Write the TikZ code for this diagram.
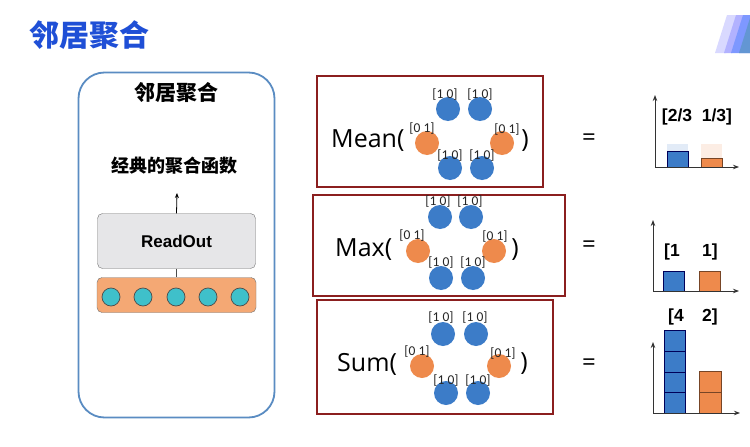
\documentclass[tikz,border=0pt]{standalone}
\usepackage{fontspec}
\setmainfont{Liberation Sans}
\newfontfamily\cjk{Noto Sans CJK SC}
\newfontfamily\lab{Carlito}
\newfontfamily\fn{Open Sans}
\usetikzlibrary{arrows.meta}
\definecolor{ttl}{HTML}{1F4FD6}
\definecolor{frame}{HTML}{5A8CC2}
\definecolor{dred}{HTML}{8B1F1F}
\definecolor{cblue}{HTML}{3C7CC8}
\definecolor{corange}{HTML}{EE8A4C}
\definecolor{teal}{HTML}{3FC0CA}
\definecolor{barorange}{HTML}{F4A874}
\definecolor{rogray}{HTML}{E6E6E8}
\tikzset{
  bc/.style={circle,fill=cblue,minimum size=24pt,inner sep=0pt},
  oc/.style={circle,fill=corange,minimum size=24pt,inner sep=0pt},
  tc/.style={circle,fill=teal,draw=black!70,line width=0.7pt,minimum size=18pt,inner sep=0pt},
  lb/.style={font=\lab\fontsize{13.5}{14}\selectfont,inner sep=0pt,text=black!85},
  fnbox/.style={draw=dred,line width=2pt},
  fnname/.style={font=\fn\fontsize{25}{28}\selectfont,inner sep=0pt,anchor=west},
  paren/.style={font=\fn\fontsize{25}{28}\selectfont,inner sep=0pt},
  eqs/.style={font=\fn\fontsize{24}{26}\selectfont,inner sep=0pt},
  val/.style={font=\bfseries\fontsize{17.5}{18}\selectfont,inner sep=0pt},
  axis/.style={line width=0.9pt,black!80,-{Stealth[length=6pt,width=4.5pt]}},
  bbar/.style={fill=cblue,draw=black!65!blue,line width=0.7pt},
  obar/.style={fill=corange,draw=black!50!corange,line width=0.7pt},
}
\begin{document}
\begin{tikzpicture}[x=1pt,y=-1pt]
\useasboundingbox[fill=white] (0,0) rectangle (750,447);

% title
\node[font=\cjk\bfseries\fontsize{30}{30}\selectfont,text=ttl,anchor=west,inner sep=0pt] (title) at (29,35) {邻居聚合};

% top-right decoration
\fill[blue!15!white] (715,53) -- (727,15) -- (738,15) -- (726,53) -- cycle;
\fill[blue!30!white] (724,53) -- (736,15) -- (744,15) -- (732,53) -- cycle;
\fill[blue!45!white!90!cyan] (731,53) -- (743,15) -- (750,15) -- (750,53) -- cycle;
\fill[cblue!80!white] (739,53) -- (750,18) -- (750,53) -- cycle;

% left panel
\node[draw=frame,line width=1.8pt,rounded corners=26pt,minimum width=196pt,minimum height=345pt,inner sep=0pt] (panel) at (176.5,245) {};
\node[font=\cjk\bfseries\fontsize{21}{21}\selectfont,inner sep=0pt] (ptitle) at (176,92) {邻居聚合};
\node[font=\cjk\bfseries\fontsize{18}{18}\selectfont,inner sep=0pt] (fname) at (174,166) {经典的聚合函数};
\node[draw=black!55,fill=rogray,rounded corners=5pt,minimum width=158pt,minimum height=55pt,inner sep=0pt,font=\bfseries\fontsize{17}{18}\selectfont] (ro) at (176.5,241) {ReadOut};
\node[draw=black!55,fill=barorange,rounded corners=5pt,minimum width=159pt,minimum height=35pt,inner sep=0pt] (bar) at (176.5,295) {};
\coordinate (atip) at (177,193);
\draw[line width=0.8pt,-{Stealth[length=5pt,width=4pt]}] (ro.north) -- (atip);
\draw[line width=0.8pt,black!70] (ro.south) -- (bar.north);
\foreach \i/\x in {1/111,2/143,3/176,4/208,5/240}{
  \node[tc] (t\i) at (\x,297) {};
}

% ---- Mean ----
\node[fnbox,minimum width=226pt,minimum height=111pt,inner sep=0pt] (meanbox) at (429.5,131) {};
\node[fnname] (meanl) at (331,141) {Mean(};
\node[bc] (ma) at (448,109) {};
\node[bc] (mb) at (480,109) {};
\node[oc] (mc) at (427,143) {};
\node[oc] (md) at (502,143) {};
\node[bc] (me) at (450,168) {};
\node[bc] (mf) at (482,168) {};
\node[lb] (mla) at (445,95) {[1 0]};
\node[lb] (mlb) at (480,95) {[1 0]};
\node[lb] (mlc) at (422,129) {[0 1]};
\node[lb] (mld) at (507,130) {[0 1]};
\node[lb] (mle) at (450,156) {[1 0]};
\node[lb] (mlf) at (482,156) {[1 0]};
\node[paren] (meanr) at (525,141) {)};
\node[eqs] (eq1) at (589,140) {=};

% ---- Max ----
\node[fnbox,minimum width=252pt,minimum height=101pt,inner sep=0pt] (maxbox) at (439,245.5) {};
\node[fnname] (maxl) at (335,250) {Max(};
\node[bc] (xa) at (440,217) {};
\node[bc] (xb) at (471,217) {};
\node[oc] (xc) at (418,251) {};
\node[oc] (xd) at (494,251) {};
\node[bc] (xe) at (441,278) {};
\node[bc] (xf) at (473,278) {};
\node[lb] (xla) at (438,202) {[1 0]};
\node[lb] (xlb) at (470,202) {[1 0]};
\node[lb] (xlc) at (412,236) {[0 1]};
\node[lb] (xld) at (495,237) {[0 1]};
\node[lb] (xle) at (441,263) {[1 0]};
\node[lb] (xlf) at (473,263) {[1 0]};
\node[paren] (maxr) at (515,250) {)};
\node[eqs] (eq2) at (589,247) {=};

% ---- Sum ----
\node[fnbox,minimum width=236pt,minimum height=114pt,inner sep=0pt] (sumbox) at (435,357) {};
\node[fnname] (suml) at (337,364) {Sum(};
\node[bc] (sa) at (443,334) {};
\node[bc] (sb) at (476,334) {};
\node[oc] (sc) at (422,366) {};
\node[oc] (sd) at (499,366) {};
\node[bc] (se) at (446,393) {};
\node[bc] (sf) at (478,393) {};
\node[lb] (sla) at (441,318) {[1 0]};
\node[lb] (slb) at (475,318) {[1 0]};
\node[lb] (slc) at (417,352) {[0 1]};
\node[lb] (sld) at (503,354) {[0 1]};
\node[lb] (sle) at (446,381) {[1 0]};
\node[lb] (slf) at (478,381) {[1 0]};
\node[paren] (sumr) at (524,364) {)};
\node[eqs] (eq3) at (589,365) {=};

% ---- Mean chart ----
\fill[cblue!15] (667,144) rectangle (688,151);
\fill[corange!15] (701,144) rectangle (722,158);
\draw[bbar] (667,151) rectangle (688,167);
\draw[obar] (701,158) rectangle (722,167);
\coordinate (c1o) at (655,167);
\coordinate (c1y) at (655,95);
\coordinate (c1x) at (739,167);
\draw[axis] (c1o) -- (c1y);
\draw[axis] (c1o) -- (c1x);
\node[val] (v1) at (697,117) {[2/3\ \ 1/3]};

% ---- Max chart ----
\draw[bbar] (663,271) rectangle (684,291);
\draw[obar] (699,271) rectangle (720,291);
\coordinate (c2o) at (653,291);
\coordinate (c2y) at (653,220);
\coordinate (c2x) at (739,291);
\draw[axis] (c2o) -- (c2y);
\draw[axis] (c2o) -- (c2x);
\node[val] (v2a) at (672,252) {[1};
\node[val] (v2b) at (710,252) {1]};

% ---- Sum chart ----
\draw[bbar] (664,330) rectangle (685,413);
\draw[black!65!blue,line width=0.7pt] (664,351) -- (685,351) (664,372) -- (685,372) (664,392) -- (685,392);
\draw[obar] (699,371) rectangle (721,413);
\draw[black!50!corange,line width=0.7pt] (699,392) -- (721,392);
\coordinate (c3o) at (653,413);
\coordinate (c3y) at (653,342);
\coordinate (c3x) at (740,413);
\draw[axis] (c3o) -- (c3y);
\draw[axis] (c3o) -- (c3x);
\node[val] (v3a) at (676,317) {[4};
\node[val] (v3b) at (710,317) {2]};
\end{tikzpicture}
\end{document}
